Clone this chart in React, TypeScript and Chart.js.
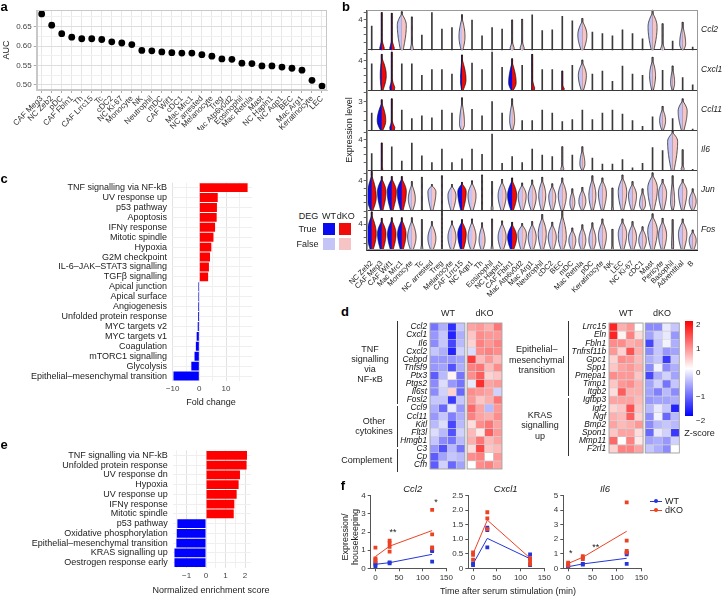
import React, { useEffect, useRef } from 'react';
import { Chart, registerables } from 'chart.js';
Chart.register(...registerables);

const FONT = "'Liberation Sans', Arial, Helvetica, sans-serif";
Chart.defaults.font.family = FONT;
Chart.defaults.color = '#333';

/* ---------------- panel a ---------------- */
const aCells = ['CAF Meg3','NC Zeb2','pDC','CAF Fbln1','Th','CAF Lrrc15','Tc','cDC2','NC Ki-67','Monocyte','NK','Neutrophil','mDC','CAF Wif1','cDC1','Mac Mrc1','NC arrested','Melanocyte','Treg','Mac Atp6v0d2','Eosinophil','Mac Retnla','Mast','NC Hapln1','NC Aqp1','BEC','Mac Arg1','Keratinocyte','LEC'];
const aAUC = [0.683,0.654,0.632,0.623,0.619,0.619,0.617,0.611,0.608,0.604,0.589,0.588,0.585,0.583,0.582,0.582,0.578,0.574,0.567,0.566,0.556,0.555,0.549,0.549,0.546,0.543,0.538,0.512,0.497];
const aTickVals = [0.5,0.525,0.55,0.575,0.6,0.625,0.65,0.675];
const aTickLabels = ['0.50','','0.55','','0.60','','0.65',''];

/* ---------------- panel b ---------------- */
const bCells = ['NC Zeb2','CAF Meg3','CAF Wif1','Mac Mrc1','Monocyte','Tc','NC arrested','Treg','Melanocyte','CAF Lrrc15','NC Aqp1','Th','Eosinophil','NC Hapln1','CAF Fbln1','Mac Atp6v0d2','Mac Arg1','Neutrophil','cDC2','BEC','mDC','Mac Retnla','pDC','Keratinocyte','NK','LEC','NC Ki-67','cDC1','Mast','Pericyte','Basophil','Adventitial','B'];
const bGenes = ['Ccl2','Cxcl1','Ccl11','Il6','Jun','Fos'];
const bRowMax = [5.33,5.5,4.24,5.33,5.5,6.2];
const bLabelTick = [4,4,3,4,4,4];

const ccl2Max = [3.2,5.0,4.9,5.1,4.4,2.0,5.0,2.8,3.0,4.7,4.0,1.9,3.0,2.8,4.0,4.1,4.7,2.6,2.7,4.5,3.9,4.2,2.4,2.2,1.9,2.7,2.2,1.5,5.3,3.5,1.2,3.7,0.4];
const ccl2WtW = [0,0.2,0.2,0.45,0.15,0,0,0,0,0.3,0,0,0,0,0.2,0.2,0,0,0,0,0,0.45,0,0,0,0,0,0,0.45,0.2,0,0.3,0];
const ccl2KoW = [0,0.25,0.25,0.45,0.15,0,0,0,0,0.3,0,0,0,0,0.2,0.2,0,0,0,0,0,0.45,0,0,0,0,0,0,0.45,0.2,0,0.3,0];
const ccl2Peak = [0,0.3,0.3,3.3,0.2,0,0,0,0,1.8,0,0,0,0,0.3,0.3,0,0,0,0,0,2.0,0,0,0,0,0,0,3.1,0.2,0,0.8,0];
const ccl2Deg = [1,2];

const cxcl1Max = [3.6,4.9,5.2,3.6,3.6,2.0,2.8,2.8,2.2,4.8,3.7,2.8,5.2,3.1,4.3,3.4,4.9,2.8,2.8,2.6,3.4,4.1,2.2,2.6,1.2,3.3,2.2,2.0,4.5,2.7,3.3,1.7,0.7];
const cxcl1WtW = [0,0.15,0.2,0,0,0,0,0,0,0.15,0,0,0,0,0.35,0,0.05,0,0,0.05,0,0.4,0,0,0,0,0,0,0.3,0,0.2,0,0];
const cxcl1KoW = [0,0.45,0.3,0,0,0,0,0,0,0.4,0,0,0,0,0.4,0,0.25,0,0,0.2,0,0.4,0,0,0,0,0,0,0.3,0,0.2,0,0];
const cxcl1Peak = [0,2.0,0.4,0,0,0,0,0,0,1.4,0,0,0,0,1.0,0,0.3,0,0,0.2,0,2.0,0,0,0,0,0,0,2.0,0,1.0,0,0];
const cxcl1Deg = [1,2,9,14,16,19];

const ccl11Max = [1.8,3.2,3.3,2.1,1.2,1.5,1.3,2.1,1.8,3.4,2.2,1.5,3.0,1.8,3.3,1.0,1.0,2.1,1.8,0.9,1.1,2.1,1.1,1.8,2.1,1.7,1.0,0.4,1.4,2.5,1.2,3.3,0.1];
const ccl11WtW = [0,0.45,0.2,0,0,0,0,0,0,0.25,0,0,0,0,0.25,0,0,0,0,0,0,0,0,0,0,0,0,0,0,0.3,0,0.45,0];
const ccl11KoW = [0,0.4,0.3,0,0,0,0,0,0,0.25,0,0,0,0,0.25,0,0,0,0,0,0,0,0,0,0,0,0,0,0,0.3,0,0.45,0];
const ccl11Peak = [0,1.0,0.3,0,0,0,0,0,0,0.6,0,0,0,0,1.0,0,0,0,0,0,0,0,0,0,0,0,0,0,0,1.0,0,2.0,0];
const ccl11Deg = [1,2];

const il6Max = [2.2,3.6,3.1,1.2,3.6,1.9,1.0,2.8,1.0,1.5,2.8,2.1,4.8,0.9,1.8,1.0,2.8,2.0,1.8,3.1,2.0,3.1,1.6,0.8,0.8,1.4,0.3,0.9,3.0,2.6,5.2,2.7,0.1];
const il6WtW = [0,0.05,0,0,0,0,0,0,0,0,0,0,0,0,0,0,0,0,0,0.15,0,0.25,0,0,0,0,0,0,0,0,0.5,0.15,0];
const il6KoW = [0,0.1,0,0,0,0,0,0,0,0,0,0,0,0,0,0,0,0,0,0.15,0,0.25,0,0,0,0,0,0,0,0,0.5,0.15,0];
const il6Peak = [0,0.1,0,0,0,0,0,0,0,0,0,0,0,0,0,0,0,0,0,0.2,0,0.8,0,0,0,0,0,0,0,0,3.8,0.2,0];
const il6Deg = [1];

const junMax = [5.3,4.6,4.6,4.6,3.9,4.5,3.5,4.7,3.5,3.8,4.0,4.8,3.9,4.2,4.4,3.7,4.1,4.5,3.6,4.4,2.9,3.1,4.7,4.4,3.0,4.8,3.9,2.9,5.1,4.2,4.7,4.2,2.9];
const junW = [0.45,0.42,0.45,0.45,0.35,0.05,0.4,0.05,0.4,0.42,0.4,0.05,0.1,0.4,0.45,0.4,0.4,0.35,0.35,0.4,0.25,0.35,0.35,0.4,0.1,0.42,0.4,0.3,0.48,0.4,0.2,0.42,0.35];
const junPeak = [1.8,2.5,2.5,2.5,1.5,0.2,2.5,0.2,2.0,2.5,2.0,0.1,0.3,2.0,2.0,2.0,1.8,2.0,1.8,2.0,1.0,1.2,2.0,2.3,0.2,2.5,2.0,0.8,3.0,2.3,1.0,2.5,1.2];
const junDeg = [0,1,2,3,9,14];

const fosMax = [5.9,4.9,5.0,5.0,5.0,4.7,4.4,6.0,4.5,4.7,4.8,4.2,4.8,4.5,4.3,4.1,4.4,5.5,4.3,6.0,3.4,3.9,4.2,4.8,3.2,4.8,4.4,3.6,5.6,4.9,4.7,4.8,3.1];
const fosW = [0.45,0.42,0.42,0.42,0.42,0.1,0.4,0.05,0.4,0.42,0.4,0.3,0.1,0.4,0.45,0.42,0.4,0.4,0.4,0.4,0.35,0.35,0.35,0.4,0.1,0.42,0.4,0.38,0.48,0.4,0.1,0.42,0.35];
const fosPeak = [2.5,2.5,2.5,2.5,2.0,0.3,1.8,0.2,2.0,2.5,2.0,1.5,0.3,2.0,2.0,2.5,2.0,2.5,2.0,2.0,1.5,1.5,1.5,2.2,0.3,2.5,2.0,1.5,3.0,2.3,0.5,2.5,1.5];
const fosDeg = [0,1,2,3,9,14];

const bRows = [
  { max: ccl2Max, wt: ccl2WtW, ko: ccl2KoW, peak: ccl2Peak, deg: ccl2Deg },
  { max: cxcl1Max, wt: cxcl1WtW, ko: cxcl1KoW, peak: cxcl1Peak, deg: cxcl1Deg },
  { max: ccl11Max, wt: ccl11WtW, ko: ccl11KoW, peak: ccl11Peak, deg: ccl11Deg },
  { max: il6Max, wt: il6WtW, ko: il6KoW, peak: il6Peak, deg: il6Deg },
  { max: junMax, wt: junW, ko: junW, peak: junPeak, deg: junDeg },
  { max: fosMax, wt: fosW, ko: fosW, peak: fosPeak, deg: fosDeg },
];

/* ---------------- panel c ---------------- */
const cPathways = ['TNF signalling via NF-kB','UV response up','p53 pathway','Apoptosis','IFNγ response','Mitotic spindle','Hypoxia','G2M checkpoint','IL-6–JAK–STAT3 signalling','TGFβ signalling','Apical junction','Apical surface','Angiogenesis','Unfolded protein response','MYC targets v2','MYC targets v1','Coagulation','mTORC1 signalling','Glycolysis','Epithelial–mesenchymal transition'];
const cFold = [18.1,6.9,6.6,6.5,5.9,5.3,4.5,4.0,3.6,3.3,-0.4,-0.4,-0.45,-0.5,-0.6,-1.0,-1.3,-1.8,-3.0,-9.7];
const cTickVals = [-10,-5,0,5,10,15];
const cTickLabels = ['−10','','0','','10',''];

/* ---------------- panel e ---------------- */
const ePathways = ['TNF signalling via NF-kB','Unfolded protein response','UV response dn','Hypoxia','UV response up','IFNγ response','Mitotic spindle','p53 pathway','Oxidative phosphorylation','Epithelial–mesenchymal transition','KRAS signalling up','Oestrogen response early'];
const eNES = [2.1,2.08,1.74,1.67,1.57,1.45,1.42,-1.47,-1.5,-1.52,-1.62,-1.62];
const eTickVals = [-1.5,-1,-0.5,0,0.5,1,1.5,2];
const eTickLabels = ['','−1','','0','','1','','2'];

/* ---------------- panel d ---------------- */
const leftGenes = ['Ccl2','Cxcl1','Il6','Cxcl2','Cebpd','Tnfsf9','Ptx3','Ptgs2','Il6st','Fosl2','Ccl9','Ccl11','Kitl','Flt3l','Hmgb1','C3','Cp','Cfh'];
const leftWT = [
  [-1.2,-0.7,-1.8,-0.5],[-0.9,-0.5,-1.9,-0.7],[-1.0,-0.5,-1.6,-0.6],[-0.5,-0.7,-1.9,-0.4],
  [-0.9,-0.9,-0.9,-0.8],[-0.9,-0.8,-1.5,-0.7],[-1.4,-0.6,0.1,-1.2],[-1.0,-0.3,-0.9,-1.2],
  [-1.0,-0.4,0.4,-1.3],[-0.5,-0.5,-1.7,-0.5],[-0.7,-1.3,-0.2,-0.9],[-0.9,-0.5,-1.1,-0.7],
  [-0.6,-0.3,-1.6,-0.6],[-0.3,-0.6,-1.5,-0.4],[-0.5,-1.0,-1.2,-0.6],[-0.9,-1.5,-0.6,-1.2],
  [-1.4,-0.8,-0.5,-0.6],[-1.4,-0.4,-1.3,-0.8]];
const leftKO = [
  [0.8,0.9,0.7,1.2],[0.5,1.0,0.9,0.9],[0.4,1.1,0.9,1.1],[-0.3,1.0,1.1,1.0],
  [1.7,0.6,0.9,0.6],[1.1,1.2,0.6,1.0],[1.0,1.4,0.4,0.5],[-0.2,1.8,0.8,0.9],
  [1.0,0.9,0.8,-0.4],[0.9,0.5,0.7,1.2],[1.3,0.8,-0.6,0.9],[1.1,0.8,0.7,1.0],
  [0.3,1.0,1.2,0.8],[0.6,0.2,1.4,0.9],[0.7,1.2,0.6,0.8],[0.3,1.6,0.5,0.6],
  [1.0,1.1,0.0,0.9],[0.0,1.0,1.1,0.8]];
const rightGenes = ['Lrrc15','Eln','Fbln1','Tnfrsf11b','Gpc1','Spp1','Pmepa1','Timp1','Itgb2','Igfbp3','Igf2','Ngf','Bmp2','Spon1','Mmp11','F2rl1'];
const rightWT = [
  [1.9,0.7,0.9,0.0],[1.9,0.1,1.1,0.3],[1.0,1.0,0.7,0.8],[0.9,0.4,1.5,0.7],
  [0.4,1.0,0.9,0.6],[0.5,0.8,0.9,0.7],[1.0,0.9,0.9,0.5],[0.5,0.9,1.0,0.7],
  [0.3,1.4,0.7,0.7],[0.8,0.8,0.8,0.6],[0.4,0.5,1.5,0.5],[0.7,0.6,1.4,0.4],
  [0.8,0.6,0.7,0.9],[0.5,0.8,0.8,0.3],[1.3,0.0,1.1,0.2],[0.4,1.1,1.1,0.8]];
const rightKO = [
  [-1.0,-1.0,-0.2,-0.5],[-0.8,-0.4,-0.2,-0.9],[-1.6,-0.5,-0.1,-0.7],[-1.0,-0.5,-0.9,-0.8],
  [-0.7,-0.5,-1.7,-0.5],[-1.0,-0.1,-1.0,-0.7],[-1.6,-0.7,-0.4,-0.8],[-0.8,-0.4,-1.2,-0.5],
  [-0.8,-1.1,-0.6,-1.0],[-0.9,-0.8,-0.8,-0.7],[-0.6,-0.2,-0.5,-1.9],[-1.0,-0.1,-1.3,-0.6],
  [-1.0,-0.6,-0.5,-0.6],[-1.3,-0.2,-0.4,-1.7],[-0.8,-0.7,-0.9,-0.4],[-0.5,-0.7,-1.0,0.0]];
const zLabels = ['2','1','0','−1','−2'];

/* ---------------- panel f ---------------- */
const fTimes = [0, 30, 120];
const fTickX = [0, 50, 100, 150];
const ccl2WT = [[0.12,0.2,0.3],[0.28,0.33],[0.37,0.95,1.0]];
const ccl2KO = [[1.14,0.55,0.48,0.38],[1.52,1.38,1.18,0.92],[3.22,1.87,1.15,1.1]];
const ccl2WTMean = [0.22,0.31,0.77];
const ccl2KOMean = [0.65,1.22,2.08];
const cxcl1WT = [[0.17,0.11],[1.4,1.32,0.72],[0.48,0.34,0.11]];
const cxcl1KO = [[0.55,0.46,0.3],[1.93,1.72,1.35],[0.34,0.23,0.14]];
const cxcl1WTMean = [0.15,1.03,0.33];
const cxcl1KOMean = [0.5,1.66,0.35];
const il6WT = [[0.07,0.16],[0.3,0.26],[1.08,0.96,0.3]];
const il6KO = [[0.3,0.38,0.18],[0.83,0.73,0.64],[4.54,1.9,1.19,1.08]];
const il6WTMean = [0.11,0.3,0.69];
const il6KOMean = [0.33,0.76,2.55];
const ccl2YTicks = [0,1,2,3,4];
const ccl2YLabels = ['0','1','2','3','4'];
const cxcl1YTicks = [0,0.5,1,1.5,2,2.5];
const cxcl1YLabels = ['0','0.5','1.0','1.5','2.0','2.5'];
const il6YTicks = [0,1,2,3,4,5];
const il6YLabels = ['0','1','2','3','4','5'];

/* ---------------- helpers ---------------- */
const RED = '#ff0000';
const BLUE = '#0000ff';
const WT_DEG = '#0a0af0';
const KO_DEG = '#f00a0a';
const WT_NS = '#c4c4f6';
const KO_NS = '#f6c4c4';
const F_BLUE = '#2436d6';
const F_RED = '#ec4224';

const base = {
  responsive: false,
  animation: false,
  devicePixelRatio: 1,
  events: [],
  plugins: { legend: { display: false }, tooltip: { enabled: false } },
};
const fixW = (w) => (s) => { s.width = w; };
const fixH = (h) => (s) => { s.height = h; };
const frame = (color) => ({
  id: 'frame',
  afterDraw(chart) {
    const { ctx, chartArea: a } = chart;
    ctx.save();
    ctx.strokeStyle = color;
    ctx.lineWidth = 1;
    ctx.strokeRect(Math.round(a.left) + 0.5, Math.round(a.top) + 0.5, Math.round(a.right - a.left) - 1, Math.round(a.bottom - a.top) - 1);
    ctx.restore();
  },
});

function zColor(z) {
  const t = Math.max(-1, Math.min(1, z / 2.2));
  if (t >= 0) { const c = Math.round(255 * (1 - t)); return `rgb(255,${c},${c})`; }
  const c = Math.round(255 * (1 + t));
  return `rgb(${c},${c},255)`;
}

function ChartBox({ x, y, w, h, make }) {
  const ref = useRef(null);
  useEffect(() => {
    const c = new Chart(ref.current, make());
    return () => c.destroy();
  }, []);
  return <canvas ref={ref} width={w} height={h} style={{ position: 'absolute', left: x, top: y, width: w, height: h }} />;
}

/* ---------------- configs ---------------- */
const makeA = () => ({
  type: 'line',
  data: { labels: aCells, datasets: [{ data: aAUC, showLine: false, pointRadius: 3.4, pointBackgroundColor: '#000', pointBorderWidth: 0 }] },
  options: {
    ...base,
    layout: { padding: { top: 10, right: 8, left: 0, bottom: 0 } },
    scales: {
      x: {
        type: 'category', offset: true,
        grid: { color: '#e8e8e8', offset: false, tickLength: 3, tickColor: '#aaa' },
        border: { color: '#c8c8c8' },
        ticks: { autoSkip: false, minRotation: 45, maxRotation: 45, font: { size: 8 }, color: '#333', padding: 1 },
        afterFit: fixH(40),
      },
      y: {
        min: 0.487, max: 0.693,
        afterBuildTicks: (s) => { s.ticks = aTickVals.map((v) => ({ value: v })); },
        ticks: { callback: (v, i) => aTickLabels[i], font: { size: 8 }, color: '#444', padding: 2, autoSkip: false },
        grid: { color: (c) => (aTickLabels[c.index] ? '#dedede' : '#f0f0f0'), tickLength: 3, tickColor: (c) => (aTickLabels[c.index] ? '#aaa' : 'rgba(0,0,0,0)') },
        border: { color: '#c8c8c8' },
        afterFit: fixW(36.7),
      },
    },
  },
  plugins: [frame('#c8c8c8')],
});

// y ticks for panel b (rows stacked on one axis)
const bTickVals = [];
const bTickText = [];
const bTickBound = [];
for (let r = 5; r >= 0; r--) {
  const b0 = 5 - r;
  bTickVals.push(b0); bTickText.push(''); bTickBound.push(true);
  for (let v = 1; v < bRowMax[r] - 0.05; v++) {
    bTickVals.push(b0 + v / bRowMax[r]);
    bTickText.push(v === bLabelTick[r] ? String(v) : '');
    bTickBound.push(false);
  }
}
bTickVals.push(6); bTickText.push(''); bTickBound.push(true);

const violinPlugin = {
  id: 'violins',
  afterDatasetsDraw(chart) {
    const { ctx } = chart;
    const xs = chart.scales.x, ys = chart.scales.y;
    const catW = xs.getPixelForValue(1) - xs.getPixelForValue(0);
    ctx.save();
    bRows.forEach((row, r) => {
      const b0 = 5 - r, rm = bRowMax[r];
      const Y = (v) => ys.getPixelForValue(b0 + v / rm);
      row.max.forEach((mx, i) => {
        const wW = row.wt[i], kW = row.ko[i];
        if (!wW && !kW) return;
        const pk = row.peak[i];
        const cx = xs.getPixelForValue(i);
        const deg = row.deg.indexOf(i) >= 0;
        const neck = pk + (mx - pk) * (pk < 0.5 ? 0.45 : 0.85);
        const vals = [];
        for (let k = 0; k <= 30; k++) vals.push((mx * k) / 30);
        vals.push(pk, neck);
        vals.sort((a, b) => a - b);
        const half = (w) => {
          const hw = w * catW;
          return vals.map((v) => {
            let f;
            if (pk > 0 && v <= pk) {
              f = pk < 0.5 ? hw * (0.85 + 0.15 * Math.sin((Math.PI / 2) * (v / pk))) : hw * (0.3 + 0.7 * Math.sin((Math.PI / 2) * (v / pk)));
            } else if (v <= neck) {
              const s = (v - pk) / Math.max(neck - pk, 1e-6);
              f = pk < 0.5 ? hw * Math.pow(1 - s, 2.5) : hw * Math.cos((Math.PI / 2) * s);
            } else f = 0;
            return [Y(v), Math.max(f, 0.5)];
          });
        };
        const L = half(wW), R = half(kW);
        const y0 = Y(0), yT = Y(mx);
        ctx.beginPath(); ctx.moveTo(cx, y0);
        L.forEach(([py, f]) => ctx.lineTo(cx - f, py));
        ctx.lineTo(cx, yT); ctx.closePath();
        ctx.fillStyle = deg ? WT_DEG : WT_NS; ctx.fill();
        ctx.beginPath(); ctx.moveTo(cx, y0);
        R.forEach(([py, f]) => ctx.lineTo(cx + f, py));
        ctx.lineTo(cx, yT); ctx.closePath();
        ctx.fillStyle = deg ? KO_DEG : KO_NS; ctx.fill();
        ctx.beginPath();
        ctx.moveTo(cx - L[0][1], L[0][0]);
        L.forEach(([py, f]) => ctx.lineTo(cx - f, py));
        ctx.lineTo(cx, yT);
        for (let k = R.length - 1; k >= 0; k--) ctx.lineTo(cx + R[k][1], R[k][0]);
        ctx.strokeStyle = '#111'; ctx.lineWidth = 0.7; ctx.stroke();
      });
    });
    ctx.restore();
  },
};

const makeB = () => ({
  type: 'bar',
  data: {
    labels: bCells,
    datasets: bRows.map((row, r) => ({
      data: row.max.map((v) => [5 - r, 5 - r + v / bRowMax[r]]),
      backgroundColor: '#3a3a3a', barThickness: 1, grouped: false, borderWidth: 0,
    })),
  },
  options: {
    ...base,
    layout: { padding: { top: 10, right: 4.3, left: 0, bottom: 0 } },
    scales: {
      x: {
        type: 'category', offset: true,
        grid: { display: false },
        border: { color: '#222' },
        ticks: { autoSkip: false, minRotation: 45, maxRotation: 45, font: { size: 7.5 }, color: '#222', padding: 1 },
        afterFit: fixH(50),
      },
      y: {
        min: 0, max: 6,
        afterBuildTicks: (s) => { s.ticks = bTickVals.map((v) => ({ value: v })); },
        ticks: { callback: (v, i) => bTickText[i], font: { size: 8 }, color: '#333', padding: 1, autoSkip: false },
        grid: { color: (c) => (bTickBound[c.index] ? '#222' : 'rgba(0,0,0,0)'), lineWidth: 0.9, tickLength: 3, tickColor: (c) => (bTickBound[c.index] ? 'rgba(0,0,0,0)' : '#555') },
        border: { color: '#555' },
        afterFit: fixW(26.7),
      },
    },
  },
  plugins: [violinPlugin, frame('#9a9a9a')],
});

const makeHBar = (labels, values, tickVals, tickLabels, min, max, padTop, padRight, xH, yW) => () => ({
  type: 'bar',
  data: { labels, datasets: [{ data: values, backgroundColor: values.map((v) => (v > 0 ? RED : BLUE)), barPercentage: 0.9, categoryPercentage: 1 }] },
  options: {
    ...base,
    indexAxis: 'y',
    layout: { padding: { top: padTop, right: padRight, left: 0, bottom: 0 } },
    scales: {
      x: {
        min, max,
        afterBuildTicks: (s) => { s.ticks = tickVals.map((v) => ({ value: v })); },
        ticks: { callback: (v, i) => tickLabels[i], font: { size: 8 }, color: '#444', padding: 3, autoSkip: false, maxRotation: 0 },
        grid: { color: (c) => (tickLabels[c.index] ? '#e2e2e2' : '#f0f0f0'), drawTicks: false },
        border: { display: false },
        afterFit: fixH(xH),
      },
      y: {
        grid: { color: '#efefef', offset: false, drawTicks: false },
        border: { display: false },
        ticks: { font: { size: 9 }, color: '#222', padding: 5, autoSkip: false },
        afterFit: fixW(yW),
      },
    },
  },
});

const blockFrame = {
  id: 'blockFrame',
  afterDatasetsDraw(chart) {
    const { ctx, chartArea: a } = chart;
    const xs = chart.scales.x;
    ctx.save();
    ctx.strokeStyle = '#9a9a9a';
    ctx.lineWidth = 0.8;
    [[0, 4], [4.25, 8.25]].forEach(([s, e]) => {
      const l = xs.getPixelForValue(s), r = xs.getPixelForValue(e);
      ctx.strokeRect(l, a.top, r - l, a.bottom - a.top);
    });
    ctx.restore();
  },
};

const makeHeat = (genes, wt, ko, yW, padR, padB) => () => {
  const ds = [];
  const common = { borderColor: '#cfcfcf', borderWidth: 0.6, borderSkipped: false, barPercentage: 1, categoryPercentage: 1, stack: 's' };
  for (let j = 0; j < 4; j++) ds.push({ ...common, data: genes.map(() => 1), backgroundColor: genes.map((g, i) => zColor(wt[i][j])) });
  ds.push({ ...common, data: genes.map(() => 0.25), backgroundColor: 'rgba(0,0,0,0)', borderWidth: 0 });
  for (let j = 0; j < 4; j++) ds.push({ ...common, data: genes.map(() => 1), backgroundColor: genes.map((g, i) => zColor(ko[i][j])) });
  return {
    type: 'bar',
    data: { labels: genes, datasets: ds },
    options: {
      ...base,
      indexAxis: 'y',
      layout: { padding: { top: 5, right: padR, left: 0, bottom: padB } },
      scales: {
        x: { stacked: true, min: 0, max: 8.25, display: false },
        y: {
          stacked: true,
          grid: { display: false, drawTicks: false },
          border: { display: false },
          ticks: { font: { size: 8.3, style: 'italic' }, color: '#111', padding: 3, autoSkip: false },
          afterFit: fixW(yW),
        },
      },
    },
    plugins: [blockFrame],
  };
};

const ptsOf = (arr) => fTimes.flatMap((t, k) => arr[k].map((v) => ({ x: t, y: v })));
const lineOf = (arr) => fTimes.map((t, k) => ({ x: t, y: arr[k] }));

const makeF = (wt, ko, wtMean, koMean, yMax, yTicks, yLabels, yW, padR) => () => ({
  type: 'scatter',
  data: {
    datasets: [
      { data: ptsOf(ko), pointStyle: 'rect', pointRadius: 2.7, backgroundColor: F_RED, borderWidth: 0 },
      { data: ptsOf(wt), pointStyle: 'rect', pointRadius: 2.7, backgroundColor: F_BLUE, borderWidth: 0 },
      { data: lineOf(koMean), showLine: true, pointRadius: 0, borderColor: F_RED, borderWidth: 1 },
      { data: lineOf(wtMean), showLine: true, pointRadius: 0, borderColor: F_BLUE, borderWidth: 1 },
    ],
  },
  options: {
    ...base,
    layout: { padding: { top: 10.7, right: padR, left: 0, bottom: 0 } },
    scales: {
      x: {
        type: 'linear', min: -10, max: 150,
        afterBuildTicks: (s) => { s.ticks = fTickX.map((v) => ({ value: v })); },
        ticks: { font: { size: 8 }, color: '#333', padding: 2, maxRotation: 0, autoSkip: false },
        grid: { drawOnChartArea: false, tickLength: 3, color: '#555' },
        border: { color: '#555' },
        afterFit: fixH(16.7),
      },
      y: {
        min: 0, max: yMax,
        afterBuildTicks: (s) => { s.ticks = yTicks.map((v) => ({ value: v })); },
        ticks: { callback: (v, i) => yLabels[i], font: { size: 8 }, color: '#333', padding: 2, autoSkip: false },
        grid: { drawOnChartArea: false, tickLength: 3, color: '#555' },
        border: { color: '#555' },
        afterFit: fixW(yW),
      },
    },
  },
});

/* ---------------- HTML text helper ---------------- */
function T({ x, y, children, size = 9, align = 'center', rot = 0, style = {} }) {
  const tx = align === 'center' ? '-50%' : align === 'right' ? '-100%' : '0';
  return (
    <div style={{ position: 'absolute', left: x, top: y, transform: `translate(${tx},-50%) rotate(${rot}deg)`, fontSize: size, fontFamily: FONT, whiteSpace: 'pre', lineHeight: 1.12, color: '#222', textAlign: 'center', ...style }}>
      {children}
    </div>
  );
}
const VLine = ({ x, y1, y2 }) => <div style={{ position: 'absolute', left: x, top: y1, width: 1, height: y2 - y1, background: '#333' }} />;
const Sq = ({ x, y, c }) => <div style={{ position: 'absolute', left: x, top: y, width: 12, height: 12, background: c }} />;
const Letter = ({ x, y, ch }) => <T x={x} y={y} size={13} style={{ fontWeight: 700, color: '#000' }}>{ch}</T>;

export default function App() {
  return (
    <div style={{ position: 'absolute', left: 0, top: 0, width: 722, height: 596, overflow: 'hidden', background: '#fff', fontFamily: FONT }}>
      <ChartBox x={0} y={0} w={335} h={130} make={makeA} />
      <ChartBox x={340} y={0} w={362} h={300} make={makeB} />
      <ChartBox x={0} y={170} w={262} h={240} make={makeHBar(cPathways, cFold, cTickVals, cTickLabels, -10.25, 19.75, 12.7, 10, 29, 172)} />
      <ChartBox x={0} y={440} w={262} h={145} make={makeHBar(ePathways, eNES, eTickVals, eTickLabels, -1.71, 2.29, 10.1, 11.3, 17.4, 172.7)} />
      <ChartBox x={395} y={315} w={112} h={162} make={makeHeat(leftGenes, leftWT, leftKO, 35, 5, 4)} />
      <ChartBox x={560} y={315} w={124} h={146} make={makeHeat(rightGenes, rightWT, rightKO, 49, 4.7, 4)} />
      <ChartBox x={335} y={485} w={120} h={100} make={makeF(ccl2WT, ccl2KO, ccl2WTMean, ccl2KOMean, 4, ccl2YTicks, ccl2YLabels, 35.7, 7.7)} />
      <ChartBox x={433} y={485} w={120} h={100} make={makeF(cxcl1WT, cxcl1KO, cxcl1WTMean, cxcl1KOMean, 2.5, cxcl1YTicks, cxcl1YLabels, 35.3, 8)} />
      <ChartBox x={528} y={485} w={122} h={100} make={makeF(il6WT, il6KO, il6WTMean, il6KOMean, 5, il6YTicks, il6YLabels, 35.3, 8.3)} />

      {/* panel letters */}
      <Letter x={4} y={7} ch="a" />
      <Letter x={346} y={7} ch="b" />
      <Letter x={4} y={179} ch="c" />
      <Letter x={345} y={312} ch="d" />
      <Letter x={4} y={445} ch="e" />
      <Letter x={343} y={486} ch="f" />

      {/* a */}
      <T x={6} y={50} rot={-90} size={9}>AUC</T>

      {/* b */}
      <T x={349} y={130} rot={-90} size={9}>Expression level</T>
      {bGenes.map((g, i) => (
        <T key={g} x={701} y={30 + 40 * i} align="left" size={8.5} style={{ fontStyle: 'italic' }}>{g}</T>
      ))}
      <T x={308.5} y={216} size={9}>DEG</T>
      <T x={329} y={216} size={9}>WT</T>
      <T x={345.7} y={216} size={9}>dKO</T>
      <T x={307.5} y={228.5} size={9}>True</T>
      <T x={307.5} y={244} size={9}>False</T>
      <Sq x={323.3} y={222.5} c={WT_DEG} />
      <Sq x={339} y={222.5} c={KO_DEG} />
      <Sq x={323.3} y={238} c={WT_NS} />
      <Sq x={339} y={238} c={KO_NS} />

      {/* c, e */}
      <T x={211} y={402} size={9}>Fold change</T>
      <T x={211} y={590} size={9}>Normalized enrichment score</T>

      {/* d */}
      <T x={448} y={313} size={9}>WT</T>
      <T x={484.5} y={313} size={9}>dKO</T>
      <T x={626} y={313} size={9}>WT</T>
      <T x={662} y={313} size={9}>dKO</T>
      <T x={370} y={363.5} size={9} style={{ lineHeight: '10px' }}>{'TNF\nsignalling\nvia\nNF-κB'}</T>
      <T x={374} y={425.5} size={9} style={{ lineHeight: '10.5px' }}>{'Other\ncytokines'}</T>
      <T x={366.7} y={460} size={9}>Complement</T>
      <T x={536.7} y={359.3} size={9} style={{ lineHeight: '10.3px' }}>{'Epithelial–\nmesenchymal\ntransition'}</T>
      <T x={540} y={425.5} size={9} style={{ lineHeight: '10.5px' }}>{'KRAS\nsignalling\nup'}</T>
      <VLine x={396.5} y1={321} y2={404} />
      <VLine x={396.5} y1={406} y2={446.5} />
      <VLine x={396.5} y1={449} y2={472} />
      <VLine x={567.5} y1={321} y2={396} />
      <VLine x={567.5} y1={398} y2={456} />
      <div style={{ position: 'absolute', left: 685, top: 320.7, width: 7.7, height: 95.3, background: 'linear-gradient(to bottom, #ff0000 0%, #ffffff 50%, #0000ff 100%)' }} />
      {zLabels.map((l, i) => (
        <T key={l} x={696} y={325 + 24 * i} align="left" size={8}>{l}</T>
      ))}
      <T x={699.5} y={433} size={9}>Z-score</T>

      {/* f */}
      <T x={412.7} y={489} size={9.5} style={{ fontStyle: 'italic' }}>Ccl2</T>
      <T x={505.7} y={489} size={9.5} style={{ fontStyle: 'italic' }}>Cxcl1</T>
      <T x={605} y={489} size={9.5} style={{ fontStyle: 'italic' }}>Il6</T>
      <T x={349.5} y={537} rot={-90} size={9} style={{ lineHeight: '9.5px' }}>{'Expression/\nhousekeeping'}</T>
      <T x={508} y={591} size={9}>Time after serum stimulation (min)</T>
      <T x={393} y={532} size={9}>**</T>
      <T x={436} y={502} size={9}>*</T>
      <T x={570.7} y={553} size={9}>*</T>
      <T x={595.7} y={547} size={9}>**</T>
      <div style={{ position: 'absolute', left: 650, top: 500.5, width: 12, height: 1, background: F_BLUE }} />
      <div style={{ position: 'absolute', left: 654, top: 499, width: 4, height: 4, borderRadius: 2, background: F_BLUE }} />
      <div style={{ position: 'absolute', left: 650, top: 509.5, width: 12, height: 1, background: F_RED }} />
      <div style={{ position: 'absolute', left: 654, top: 508, width: 4, height: 4, borderRadius: 2, background: F_RED }} />
      <T x={665} y={501} align="left" size={9}>WT</T>
      <T x={665} y={510} align="left" size={9}>dKO</T>
    </div>
  );
}
